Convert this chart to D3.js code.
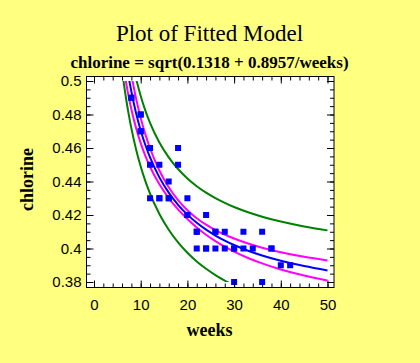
<!DOCTYPE html>
<html>
<head>
<meta charset="utf-8">
<script src="https://cdn.jsdelivr.net/npm/d3@7"></script>
<style>
  html, body { margin: 0; padding: 0; background: #FFFF80; }
  svg { display: block; }
</style>
</head>
<body>
<svg id="chart" width="420" height="363"></svg>
<script>
// ---- Data ----
const obsWeeks = [8,8,10,10,10,10,12,12,12,12,14,14,14,16,16,16,18,18,20,20,20,22,22,22,24,24,24,26,26,26,28,28,30,30,30,32,32,34,36,36,38,38,40,42];
const obsChlorine = [0.49,0.49,0.48,0.47,0.48,0.47,0.46,0.46,0.45,0.43,0.45,0.43,0.43,0.44,0.43,0.43,0.46,0.45,0.42,0.42,0.43,0.41,0.41,0.40,0.42,0.40,0.40,0.41,0.40,0.41,0.41,0.40,0.40,0.40,0.38,0.41,0.40,0.40,0.41,0.38,0.40,0.40,0.39,0.39];

const curveWeeks = [6,6.5,7,7.5,8,9,10,11,12,14,16,18,20,22,24,26,28,30,33,36,40,45,50];
const fitted     = [0.53017,0.51923,0.50966,0.50123,0.49372,0.48096,0.47050,0.46177,0.45436,0.44247,0.43334,0.42610,0.42023,0.41535,0.41124,0.40774,0.40471,0.40207,0.39868,0.39583,0.39268,0.38949,0.38693];
const confUpper  = [0.54493,0.53269,0.52198,0.51252,0.50409,0.48974,0.47798,0.46815,0.45984,0.44656,0.43654,0.42883,0.42285,0.41810,0.41425,0.41104,0.40831,0.40597,0.40299,0.40050,0.39777,0.39503,0.39284];
const confLower  = [0.51499,0.50541,0.49704,0.48968,0.48314,0.47201,0.46290,0.45529,0.44882,0.43834,0.43012,0.42335,0.41758,0.41257,0.40821,0.40441,0.40107,0.39813,0.39432,0.39110,0.38751,0.38387,0.38093];
const predUpper  = [0.55268,0.54120,0.53122,0.52247,0.51474,0.50168,0.49110,0.48234,0.47498,0.46328,0.45440,0.44744,0.44183,0.43721,0.43334,0.43005,0.42721,0.42476,0.42161,0.41898,0.41608,0.41316,0.41082];
const predLower  = [0.50667,0.49629,0.48716,0.47904,0.47177,0.45930,0.44896,0.44023,0.43276,0.42063,0.41120,0.40364,0.39745,0.39227,0.38789,0.38414,0.38088,0.37802,0.37434,0.37124,0.36779,0.36429,0.36146];

const xTicks = [0,10,20,30,40,50];
const xTickLabels = ["0","10","20","30","40","50"];
const yTicks = [0.38,0.40,0.42,0.44,0.46,0.48,0.50];
const yTickLabels = ["0.38","0.4","0.42","0.44","0.46","0.48","0.5"];
const xMinorStep = 2;
const yMinorStep = 0.005;

const titleText = "Plot of Fitted Model";
const subtitleText = "chlorine = sqrt(0.1318 + 0.8957/weeks)";
const xLabel = "weeks";
const yLabel = "chlorine";

// ---- Layout ----
const svg = d3.select("#chart");
const box = {left: 86.5, right: 334, top: 76.5, bottom: 287.5};
const x = d3.scaleLinear().domain([0, 50]).range([94, 327.5]);
const y = d3.scaleLinear().domain([0.38, 0.5]).range([282, 81]);

const sans = "'Liberation Sans', Arial, sans-serif";
const serif = "'Liberation Serif', 'Times New Roman', serif";

svg.append("rect").attr("width", 420).attr("height", 363).attr("fill", "#FFFF80");

// titles
svg.append("text").attr("x", 209.5).attr("y", 41).attr("text-anchor", "middle")
  .style("font-family", serif).style("font-size", "23px").text(titleText);
svg.append("text").attr("x", 209.5).attr("y", 68).attr("text-anchor", "middle")
  .style("font-family", serif).style("font-size", "17px").style("font-weight", "bold").text(subtitleText);

// plot background
svg.append("rect").attr("x", box.left).attr("y", box.top)
  .attr("width", box.right - box.left).attr("height", box.bottom - box.top)
  .attr("fill", "#FFFFFF");

// clip for curves
svg.append("clipPath").attr("id", "clip").append("rect")
  .attr("x", box.left).attr("y", y(0.5))
  .attr("width", box.right - box.left).attr("height", y(0.38) - y(0.5));

const line = vals => d3.line()
  .x((d, i) => x(curveWeeks[i]))
  .y(d => y(d))
  .curve(d3.curveMonotoneX)(vals);

const curves = svg.append("g").attr("clip-path", "url(#clip)");
[[predUpper, "#008000"], [predLower, "#008000"],
 [confUpper, "#FF00FF"], [confLower, "#FF00FF"],
 [fitted, "#0000FF"]].forEach(([vals, col]) => {
  curves.append("path").attr("d", line(vals))
    .attr("fill", "none").attr("stroke", col).attr("stroke-width", 2);
});

// points
svg.append("g").selectAll("rect").data(obsWeeks).join("rect")
  .attr("x", (d, i) => x(d) - 3)
  .attr("y", (d, i) => y(obsChlorine[i]) - 3)
  .attr("width", 6).attr("height", 6)
  .attr("fill", "#0000FF");

// axes
const xMinor = d3.range(0, 50 + 1e-9, xMinorStep);
const yMinor = d3.range(0, 25).map(i => +(0.38 + i * yMinorStep).toFixed(3));

function styleAxis(g) {
  g.select(".domain").remove();
  g.selectAll("line").attr("stroke", "#000").attr("stroke-width", 1);
}

// bottom
svg.append("g").attr("transform", `translate(0,${box.bottom})`)
  .call(d3.axisBottom(x).tickValues(xMinor).tickSize(-4).tickFormat(""))
  .call(styleAxis);
const xb = svg.append("g").attr("transform", `translate(0,${box.bottom})`)
  .call(d3.axisBottom(x).tickValues(xTicks).tickSize(-7).tickPadding(12)
    .tickFormat((d, i) => xTickLabels[i]))
  .call(styleAxis);
xb.selectAll("text").style("font-family", sans).style("font-size", "15px").attr("fill", "#000");
// top
svg.append("g").attr("transform", `translate(0,${box.top})`)
  .call(d3.axisTop(x).tickValues(xMinor).tickSize(-4).tickFormat(""))
  .call(styleAxis);
svg.append("g").attr("transform", `translate(0,${box.top})`)
  .call(d3.axisTop(x).tickValues(xTicks).tickSize(-7).tickFormat(""))
  .call(styleAxis);
// left
svg.append("g").attr("transform", `translate(${box.left},0)`)
  .call(d3.axisLeft(y).tickValues(yMinor).tickSize(-4).tickFormat(""))
  .call(styleAxis);
const yl = svg.append("g").attr("transform", `translate(${box.left},0)`)
  .call(d3.axisLeft(y).tickValues(yTicks).tickSize(-7).tickPadding(5)
    .tickFormat((d, i) => yTickLabels[i]))
  .call(styleAxis);
yl.selectAll("text").style("font-family", sans).style("font-size", "15px").attr("fill", "#000");
// right
svg.append("g").attr("transform", `translate(${box.right},0)`)
  .call(d3.axisRight(y).tickValues(yMinor).tickSize(-4).tickFormat(""))
  .call(styleAxis);
svg.append("g").attr("transform", `translate(${box.right},0)`)
  .call(d3.axisRight(y).tickValues(yTicks).tickSize(-7).tickFormat(""))
  .call(styleAxis);

// frame
svg.append("rect").attr("x", box.left).attr("y", box.top)
  .attr("width", box.right - box.left).attr("height", box.bottom - box.top)
  .attr("fill", "none").attr("stroke", "#000").attr("stroke-width", 1);

// axis titles
svg.append("text").attr("x", 209.5).attr("y", 336).attr("text-anchor", "middle")
  .style("font-family", serif).style("font-size", "18px").style("font-weight", "bold").text(xLabel);
svg.append("text").attr("transform", "translate(33,179.5) rotate(-90)").attr("text-anchor", "middle")
  .style("font-family", serif).style("font-size", "18px").style("font-weight", "bold").text(yLabel);
</script>
</body>
</html>
